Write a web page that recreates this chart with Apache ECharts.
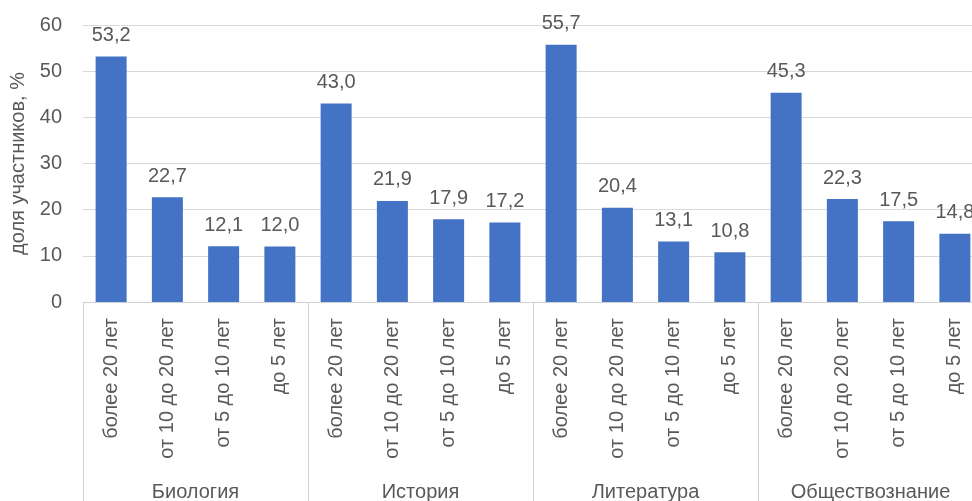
<!DOCTYPE html>
<html>
<head>
<meta charset="utf-8">
<script src="https://cdn.jsdelivr.net/npm/echarts@6/dist/echarts.min.js"></script>
<style>html,body{margin:0;padding:0;background:#fff}#c{width:972px;height:501px}</style>
</head>
<body>
<div id="c"></div>
<script>
var groups = ['Биология', 'История', 'Литература', 'Обществознание'];
var subCategories = ['более 20 лет', 'от 10 до 20 лет', 'от 5 до 10 лет', 'до 5 лет'];
var biologyValues = [53.2, 22.7, 12.1, 12.0];
var historyValues = [43.0, 21.9, 17.9, 17.2];
var literatureValues = [55.7, 20.4, 13.1, 10.8];
var socialValues = [45.3, 22.3, 17.5, 14.8];
var yTicks = [0, 10, 20, 30, 40, 50, 60];

var categories = [];
groups.forEach(function () { subCategories.forEach(function (s) { categories.push(s); }); });
var values = biologyValues.concat(historyValues, literatureValues, socialValues);

var font = 'Liberation Sans, Arial, sans-serif';
var textColor = '#595959';
var chart = echarts.init(document.getElementById('c'));
chart.setOption({
  animation: false,
  grid: { left: 83, top: 25, width: 900, height: 277, containLabel: false, outerBoundsMode: 'none' },
  xAxis: [{
    type: 'category',
    data: categories,
    axisLine: { show: true, lineStyle: { color: '#d0d0d0', width: 1 } },
    axisTick: { show: true, interval: function (i) { return i % 4 === 0; }, length: 200, lineStyle: { color: '#d0d0d0' } },
    axisLabel: { interval: 0, rotate: 90, margin: 16, color: textColor, fontSize: 20, fontFamily: font }
  }, {
    type: 'category',
    data: groups,
    position: 'bottom',
    axisLine: { show: false },
    axisTick: { show: false },
    axisLabel: { interval: 0, margin: 180, color: textColor, fontSize: 20, fontFamily: font }
  }],
  yAxis: {
    type: 'value',
    min: yTicks[0], max: yTicks[yTicks.length - 1], interval: 10,
    name: 'доля участников, %',
    nameLocation: 'middle',
    nameGap: 54,
    nameTextStyle: { color: textColor, fontSize: 20, fontFamily: font },
    axisLine: { show: false },
    axisTick: { show: false },
    axisLabel: { color: textColor, fontSize: 20, fontFamily: font, margin: 21 },
    splitLine: { lineStyle: { color: '#d9d9d9', width: 1 } }
  },
  series: [{
    type: 'bar',
    data: values,
    barWidth: 31,
    itemStyle: { color: '#4472c4' },
    label: {
      show: true, position: 'top', distance: 11,
      color: textColor, fontSize: 20, fontFamily: font,
      formatter: function (p) { return p.value.toFixed(1).replace('.', ','); }
    }
  }]
});
</script>
</body>
</html>
